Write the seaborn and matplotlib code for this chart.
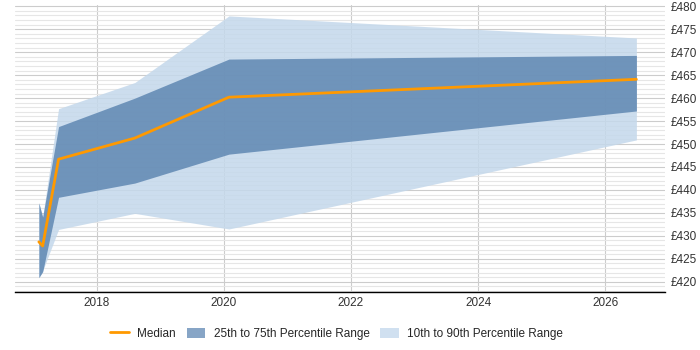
import matplotlib
matplotlib.use("Agg")
import matplotlib.pyplot as plt
import seaborn as sns
import pandas as pd
from matplotlib.ticker import MultipleLocator, FuncFormatter
from matplotlib.patches import Patch
from matplotlib.lines import Line2D

years = [2017.09, 2017.15, 2017.40, 2018.60, 2020.08, 2026.49]
median = [428.7, 427.8, 446.7, 451.3, 460.2, 464.1]
p25 = [420.9, 422.2, 438.4, 441.5, 447.8, 457.2]
p75 = [437.2, 434.1, 453.8, 460.0, 468.5, 469.3]
p10 = [420.9, 422.4, 431.4, 434.9, 431.5, 450.9]
p90 = [437.2, 434.1, 457.7, 463.4, 477.9, 473.1]

sns.set_theme(style="white")
plt.rcParams['font.family'] = ['Liberation Sans', 'DejaVu Sans']

df = pd.DataFrame({"year": years, "median": median})

fig = plt.figure(figsize=(7, 3.5), dpi=100)
ax = fig.add_axes([0.021, 0.166, 0.929, 0.82])

light = "#c4d8eb"
dark = "#5f87b2"
orange = "#ff9900"

ax.fill_between(years, p10, p90, color=light, lw=0, alpha=0.85, zorder=2)
ax.fill_between(years, p25, p75, color=dark, lw=0, alpha=0.85, zorder=3)
sns.lineplot(data=df, x="year", y="median", ax=ax, color=orange, lw=2, zorder=4)

ax.set_xlim(2016.71, 2026.94)
ax.set_ylim(417.8, 480.3)
ax.xaxis.set_major_locator(MultipleLocator(2))
ax.xaxis.set_major_formatter(FuncFormatter(lambda v, p: f"{int(v)}"))
ax.yaxis.set_major_locator(MultipleLocator(5))
ax.yaxis.set_minor_locator(MultipleLocator(1))
ax.yaxis.set_major_formatter(FuncFormatter(lambda v, p: f"£{int(round(v))}"))
ax.yaxis.tick_right()
ax.grid(axis='y', which='major', color='#cccccc', lw=0.8, zorder=0)
ax.grid(axis='y', which='minor', color='#e6e6e6', lw=0.8, zorder=0)
ax.grid(axis='x', which='major', color='#cccccc', lw=0.8, zorder=0)
ax.set_axisbelow(True)
for s in ['top', 'right', 'left']:
    ax.spines[s].set_visible(False)
ax.spines['bottom'].set_color('#000000')
ax.spines['bottom'].set_linewidth(1)
ax.tick_params(axis='both', which='both', length=0, labelsize=8.5, colors='#333333', pad=4)
ax.set_xlabel("")
ax.set_ylabel("")

handles = [
    Line2D([0], [0], color=orange, lw=2),
    Patch(facecolor="#87a5c6", edgecolor='none'),
    Patch(facecolor="#d0e0f0", edgecolor='none'),
]
labels = ["Median", "25th to 75th Percentile Range", "10th to 90th Percentile Range"]
fig.legend(handles, labels, loc='center', bbox_to_anchor=(0.481, 0.046), ncol=3,
           frameon=False, fontsize=8.5, handlelength=1.6, handleheight=1.0,
           columnspacing=0.9, handletextpad=0.7)

fig.savefig("out.png", dpi=100)
